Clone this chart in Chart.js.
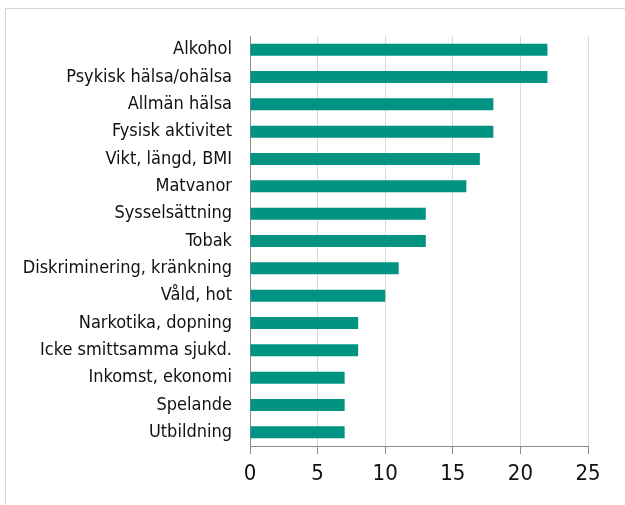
<!DOCTYPE html>
<html>
<head>
<meta charset="utf-8">
<script src="https://cdn.jsdelivr.net/npm/chart.js@4"></script>
<style>
  html, body { margin: 0; padding: 0; background: #fff; }
  #wrap { width: 625px; height: 505px; position: relative; }
</style>
</head>
<body>
<div id="wrap"><canvas id="topicChart" width="625" height="505"></canvas></div>
<script>
const categories = [
    'Alkohol', 'Psykisk hälsa/ohälsa', 'Allmän hälsa', 'Fysisk aktivitet',
    'Vikt, längd, BMI', 'Matvanor', 'Sysselsättning', 'Tobak',
    'Diskriminering, kränkning', 'Våld, hot', 'Narkotika, dopning',
    'Icke smittsamma sjukd.', 'Inkomst, ekonomi', 'Spelande', 'Utbildning'
];
const counts = [22, 22, 18, 18, 17, 16, 13, 13, 11, 10, 8, 8, 7, 7, 7];
const xTicks = [0, 5, 10, 15, 20, 25];

// light frame around the whole chart, like the exported image
const framePlugin = {
    id: 'frame',
    beforeDraw(chart) {
        const c = chart.ctx;
        c.save();
        c.strokeStyle = '#d4d4d4';
        c.lineWidth = 1;
        c.beginPath();
        c.moveTo(5.5, 505);
        c.lineTo(5.5, 8.5);
        c.lineTo(625, 8.5);
        c.stroke();
        c.restore();
    }
};

const ctx = document.getElementById('topicChart').getContext('2d');
const topicChart = new Chart(ctx, {
    type: 'bar',
    data: {
        labels: categories,
        datasets: [{
            data: counts,
            backgroundColor: '#009382',
            borderWidth: 0,
            barPercentage: 0.44,
            categoryPercentage: 1
        }]
    },
    options: {
        indexAxis: 'y',
        responsive: false,
        animation: false,
        layout: { padding: { top: 36, right: 37, left: 0, bottom: 0 } },
        plugins: {
            legend: { display: false },
            tooltip: { enabled: false }
        },
        scales: {
            x: {
                min: 0,
                max: 25,
                afterBuildTicks: (axis) => { axis.ticks = xTicks.map(v => ({ value: v })); },
                afterFit: (axis) => { axis.height = 59; },
                grid: {
                    color: '#d9d9d9',
                    tickColor: '#8c8c8c',
                    tickLength: 8,
                    drawTicks: true
                },
                border: { color: '#8c8c8c' },
                ticks: {
                    color: '#111',
                    padding: 7,
                    font: { family: 'DejaVu Sans Condensed', size: 22 }
                }
            },
            y: {
                afterFit: (axis) => { axis.width = 250; },
                grid: { display: false, drawTicks: false },
                border: { color: '#8c8c8c' },
                ticks: {
                    color: '#111',
                    padding: 18,
                    font: { family: 'DejaVu Sans Condensed', size: 18 }
                }
            }
        }
    },
    plugins: [framePlugin]
});
</script>
</body>
</html>
